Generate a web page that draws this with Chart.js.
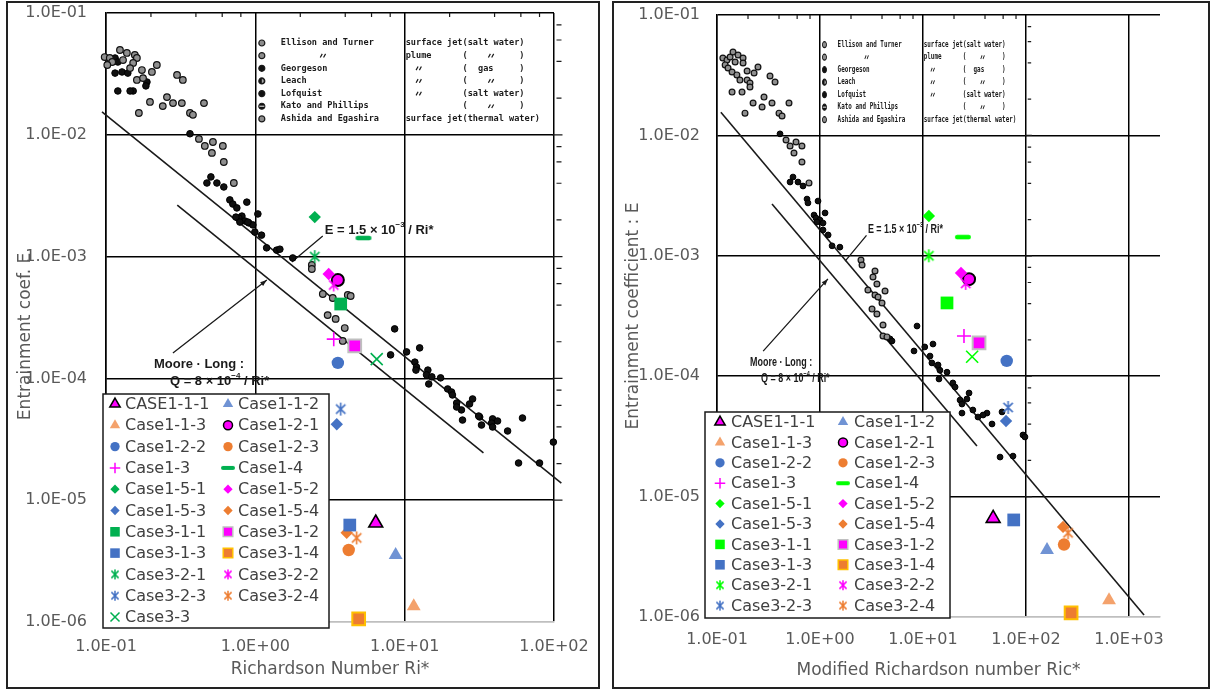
<!DOCTYPE html>
<html>
<head>
<meta charset="utf-8">
<script src="https://cdn.jsdelivr.net/npm/chart.js@4.4.1/dist/chart.umd.min.js"></script>
<style>
  body { margin: 0; background: #fff; width: 1216px; height: 690px; overflow: hidden; position: relative; }
  .frame { position: absolute; border: 2px solid #222; box-sizing: border-box; }
  canvas { position: absolute; top: 0; }
</style>
</head>
<body>
<div class="frame" style="left:6px;top:1px;width:594px;height:688px"></div>
<div class="frame" style="left:612px;top:1px;width:598px;height:688px"></div>
<canvas id="left" width="608" height="690" style="left:0"></canvas>
<canvas id="right" width="608" height="690" style="left:608px"></canvas>
<script>
// ---- data ----
const caseNames = ['CASE1-1-1', 'Case1-1-2', 'Case1-1-3', 'Case1-2-1', 'Case1-2-2', 'Case1-2-3',
  'Case1-3', 'Case1-4', 'Case1-5-1', 'Case1-5-2', 'Case1-5-3', 'Case1-5-4',
  'Case3-1-1', 'Case3-1-2', 'Case3-1-3', 'Case3-1-4', 'Case3-2-1', 'Case3-2-2',
  'Case3-2-3', 'Case3-2-4', 'Case3-3'];

// left panel: Richardson number Ri*
const riLeft = [6.4, 8.7, 11.5, 3.57, 3.57, 4.22, 3.35, 5.3, 2.5, 3.1, 3.51, 4.09,
  3.73, 4.63, 4.29, 4.92, 2.5, 3.35, 3.73, 4.77, 6.5];
const eLeft = [6.5e-6, 3.55e-6, 1.35e-6, 6.43e-4, 1.34e-4, 3.9e-6, 2.1e-4, 1.42e-3, 2.11e-3, 7.2e-4, 4.2e-5, 5.4e-6,
  4.08e-4, 1.85e-4, 6.25e-6, 1.06e-6, 1.0e-3, 5.85e-4, 5.6e-5, 4.9e-6, 1.44e-4];

// right panel: modified Richardson number Ric*
const riRight = [48, 160, 640, 28, 65, 234, 25, 24.4, 11.4, 23.4, 64, 229,
  17.1, 35, 76, 274, 11.4, 26, 67, 256, 30];
const eRight = [6.6e-6, 3.6e-6, 1.38e-6, 6.4e-4, 1.34e-4, 4.0e-6, 2.16e-4, 1.43e-3, 2.14e-3, 7.2e-4, 4.25e-5, 5.6e-6,
  4.06e-4, 1.89e-4, 6.4e-6, 1.08e-6, 1.0e-3, 5.9e-4, 5.5e-5, 5.0e-6, 1.45e-4];

// literature points of the scanned figure [Ri, E]
const litOpenLeft = [[0.098, 0.0435], [0.106, 0.0427], [0.124, 0.0497], [0.138, 0.047], [0.156, 0.0452],
  [0.161, 0.0427], [0.130, 0.0411], [0.110, 0.0396], [0.102, 0.0374], [0.152, 0.0389], [0.145, 0.0353],
  [0.174, 0.034], [0.203, 0.0328], [0.219, 0.0374], [0.299, 0.031], [0.327, 0.0282], [0.161, 0.0282],
  [0.177, 0.0292], [0.256, 0.0204], [0.197, 0.0186], [0.240, 0.0172], [0.281, 0.0182], [0.322, 0.0182],
  [0.453, 0.0182], [0.166, 0.0151], [0.365, 0.0151], [0.382, 0.0146], [0.419, 0.00925], [0.459, 0.0081],
  [0.52, 0.00873], [0.606, 0.0081], [0.512, 0.0071], [0.615, 0.00598], [0.718, 0.00402], [2.39, 8.53e-4],
  [2.39, 7.91e-4], [2.83, 4.93e-4], [3.30, 4.57e-4], [4.16, 4.84e-4], [4.35, 4.75e-4], [3.05, 3.31e-4],
  [3.45, 3.08e-4], [3.97, 2.59e-4], [3.85, 2.03e-4]];
const litSolidLeft = [[0.115, 0.0427], [0.120, 0.0396], [0.115, 0.0321], [0.128, 0.0328], [0.140, 0.0321],
  [0.188, 0.0271], [0.185, 0.0252], [0.152, 0.0229], [0.145, 0.0229], [0.120, 0.0229], [0.365, 0.0102],
  [0.504, 0.00451], [0.474, 0.00402], [0.553, 0.00402], [0.615, 0.00373], [0.675, 0.00292], [0.707, 0.0027],
  [0.877, 0.0028], [0.752, 0.00251], [0.813, 0.00215], [0.776, 0.00207], [0.851, 0.00196], [0.905, 0.00189],
  [0.962, 0.00182], [1.04, 0.00224], [0.741, 0.00211], [0.788, 0.00192], [0.891, 0.00192], [0.993, 0.00159],
  [1.10, 0.0015], [1.19, 0.00118], [1.39, 0.00113], [1.78, 0.000975], [1.46, 0.00115],
  [8.57, 2.55e-4], [8.05, 1.56e-4], [10.3, 1.65e-4], [12.6, 1.78e-4], [11.7, 1.36e-4], [12.0, 1.24e-4],
  [11.9, 1.17e-4], [14.3, 1.17e-4], [14.0, 1.07e-4], [15.2, 1.03e-4], [17.4, 1.01e-4], [14.5, 9.0e-5],
  [19.4, 8.19e-5], [20.6, 7.73e-5], [20.9, 7.31e-5], [27.2, 6.17e-5], [28.5, 6.78e-5], [22.3, 6.28e-5],
  [24.0, 5.51e-5], [24.4, 4.55e-5], [31.8, 4.82e-5], [38.8, 4.65e-5], [61.5, 4.73e-5], [22.3, 5.82e-5],
  [31.3, 4.91e-5], [32.7, 4.14e-5], [38.2, 4.3e-5], [38.8, 3.99e-5], [41.9, 4.47e-5], [48.9, 3.7e-5],
  [57.9, 2.02e-5], [80.0, 2.02e-5], [99, 3.0e-5]];

const litOpenRight = [[0.114, 0.044], [0.125, 0.0423], [0.134, 0.0448], [0.143, 0.0493], [0.160, 0.0466],
  [0.179, 0.044], [0.179, 0.0399], [0.150, 0.0407], [0.120, 0.0385], [0.128, 0.0363], [0.140, 0.0336],
  [0.156, 0.0318], [0.196, 0.0343], [0.229, 0.033], [0.250, 0.037], [0.167, 0.0288], [0.196, 0.0288],
  [0.209, 0.0272], [0.209, 0.0252], [0.175, 0.0229], [0.140, 0.0229], [0.187, 0.0153], [0.224, 0.0186],
  [0.274, 0.0172], [0.286, 0.0208], [0.327, 0.0311], [0.366, 0.0278], [0.342, 0.0186], [0.500, 0.0186],
  [0.400, 0.0153], [0.428, 0.0145], [0.468, 0.00916], [0.512, 0.00817], [0.585, 0.00881], [0.668, 0.00817],
  [0.559, 0.00714], [0.668, 0.00601], [0.782, 0.00403], [2.50, 9.23e-4], [2.56, 8.39e-4], [3.42, 7.48e-4],
  [3.27, 6.67e-4], [3.57, 5.83e-4], [2.92, 5.2e-4], [4.28, 5.1e-4], [3.42, 4.72e-4], [3.66, 4.55e-4],
  [4.0, 4.06e-4], [3.2, 3.61e-4], [3.57, 3.29e-4], [4.09, 2.66e-4], [4.09, 2.16e-4], [4.47, 2.12e-4]];
const litSolidRight = [[0.409, 0.0103], [0.547, 0.00451], [0.512, 0.0041], [0.611, 0.0041], [0.684, 0.0038],
  [0.748, 0.00296], [0.764, 0.00275], [0.957, 0.00285], [0.875, 0.00218], [0.914, 0.00206], [1.0, 0.00198],
  [1.12, 0.00227], [1.07, 0.00187], [0.935, 0.00191], [1.07, 0.00164], [1.20, 0.00149], [1.31, 0.00121],
  [1.56, 0.00118], [4.79, 2.04e-4], [5.0, 1.96e-4], [8.75, 2.61e-4], [8.18, 1.62e-4], [10.4, 1.75e-4],
  [12.5, 1.85e-4], [11.7, 1.47e-4], [12.2, 1.29e-4], [14.0, 1.24e-4], [14.6, 1.12e-4], [17.1, 1.08e-4],
  [14.3, 9.48e-5], [19.5, 8.79e-5], [20.5, 8.13e-5], [28.0, 7.25e-5], [22.9, 6.34e-5], [23.9, 5.87e-5],
  [26.7, 6.47e-5], [23.9, 4.94e-5], [41.8, 4.94e-5], [58.5, 5.05e-5], [34.2, 4.58e-5], [38.3, 4.76e-5],
  [30.5, 5.24e-5], [46.8, 4.01e-5], [56.0, 2.13e-5], [74.8, 2.17e-5], [93.5, 3.25e-5], [97.7, 3.13e-5]];

// E = 1.5e-3/Ri* and Moore-Long Q = 8e-4/Ri* (end points)
const lineELeft = [[0.094, 0.0154], [112, 1.38e-5]];
const lineMLLeft = [[0.30, 2.65e-3], [33.7, 2.45e-5]];
const lineERight = [[0.109, 0.0156], [1400, 1.04e-6]];
const lineMLRight = [[0.342, 2.69e-3], [33.4, 2.63e-5]];

const xTicksLeft = [0.1, 1, 10, 100];
const xTicksRight = [0.1, 1, 10, 100, 1000];
const yTicks = [1e-6, 1e-5, 1e-4, 1e-3, 1e-2, 1e-1];
const xLabelsLeft = ['1.0E-01', '1.0E+00', '1.0E+01', '1.0E+02'];
const xLabelsRight = ['1.0E-01', '1.0E+00', '1.0E+01', '1.0E+02', '1.0E+03'];
const yLabels = ['1.0E-06', '1.0E-05', '1.0E-04', '1.0E-03', '1.0E-02', '1.0E-01'];

// ---- styles ----
const FONT = '"DejaVu Sans", sans-serif';
const LABEL = '#595959';
const INK = '#1a1a1a';
const MAG = '#FF00FF', BLUE = '#4472C4', ORANGE = '#ED7D31', LBLUE = '#7093D4', LORANGE = '#F4A26C';

function asteriskImg(color, size, lw) {
  const c = document.createElement('canvas');
  c.width = c.height = size + 2;
  const g = c.getContext('2d');
  const m = c.width / 2, r = size / 2, d = r * 0.72;
  g.strokeStyle = color;
  g.lineWidth = lw;
  g.beginPath();
  g.moveTo(m, m - r); g.lineTo(m, m + r);
  g.moveTo(m - d, m - d); g.lineTo(m + d, m + d);
  g.moveTo(m + d, m - d); g.lineTo(m - d, m + d);
  g.stroke();
  return c;
}

function dashImg(color, len, th) {
  const c = document.createElement('canvas');
  c.width = len + 2; c.height = th + 2;
  const g = c.getContext('2d');
  g.strokeStyle = color;
  g.lineWidth = th;
  g.lineCap = 'round';
  g.beginPath();
  g.moveTo(1 + th / 2, c.height / 2);
  g.lineTo(c.width - 1 - th / 2, c.height / 2);
  g.stroke();
  return c;
}

function caseStyles(green) {
  return [
    { shape: 'triangle', fill: MAG, border: '#000', bw: 1.6, r: 8 },
    { shape: 'triangle', fill: LBLUE, r: 8 },
    { shape: 'triangle', fill: LORANGE, r: 8 },
    { shape: 'circle', fill: MAG, border: '#000', bw: 2, r: 6 },
    { shape: 'circle', fill: BLUE, r: 6.2 },
    { shape: 'circle', fill: ORANGE, r: 6.2 },
    { shape: 'cross', color: MAG, r: 7 },
    { shape: 'dash', color: green },
    { shape: 'rectRot', fill: green, r: 6.2 },
    { shape: 'rectRot', fill: MAG, r: 6.2 },
    { shape: 'rectRot', fill: BLUE, r: 6.2 },
    { shape: 'rectRot', fill: ORANGE, r: 6.2 },
    { shape: 'rect', fill: green, r: 9 },
    { shape: 'rect', fill: MAG, border: '#BFBFBF', bw: 2, r: 9 },
    { shape: 'rect', fill: BLUE, r: 9 },
    { shape: 'rect', fill: ORANGE, border: '#FFC000', bw: 2, r: 9 },
    { shape: 'ast', color: green },
    { shape: 'ast', color: MAG },
    { shape: 'ast', color: BLUE },
    { shape: 'ast', color: ORANGE },
    { shape: 'crossRot', color: green, r: 8.5 }
  ].map(s => {
    if (s.shape === 'ast') { s.img = asteriskImg(s.color, 13, 1.6); s.legImg = asteriskImg(s.color, 10, 1.5); }
    if (s.shape === 'dash') { s.img = dashImg(s.color, 16, 4.5); s.legImg = dashImg(s.color, 14, 4); }
    return s;
  });
}

function caseDataset(name, x, y, s, i, inLegend) {
  const ds = { label: name, data: [{ x: x, y: y }], order: 40 - i, legend: inLegend, caseStyle: s, clip: false };
  if (s.img) {
    ds.pointStyle = s.img;
    ds.pointRadius = 7;
  } else {
    ds.pointStyle = s.shape;
    ds.pointRadius = s.r;
    ds.pointBackgroundColor = s.fill || 'rgba(0,0,0,0)';
    ds.pointBorderColor = s.border || s.color || s.fill;
    ds.pointBorderWidth = s.bw || (s.color ? 1.6 : 0);
  }
  ds.pointHoverRadius = ds.pointRadius;
  return ds;
}

function drawLegendMarker(ctx, s, x, y) {
  if (s.legImg) {
    ctx.drawImage(s.legImg, x - s.legImg.width / 2, y - s.legImg.height / 2);
    return;
  }
  ctx.save();
  ctx.fillStyle = s.fill || 'rgba(0,0,0,0)';
  ctx.strokeStyle = s.border || s.color || s.fill;
  const bw = s.bw ? 1.5 : (s.color ? 1.5 : 0);
  ctx.lineWidth = bw;
  Chart.helpers.drawPoint(ctx, { pointStyle: s.shape, radius: s.r * 0.75, rotation: 0, borderWidth: bw }, x, y);
  ctx.restore();
}

// legend box with two columns drawn inside the plot
const caseLegend = {
  id: 'caseLegend',
  afterDatasetsDraw(chart, args, o) {
    const ctx = chart.ctx;
    const [x1, y1, x2, y2] = o.box;
    ctx.save();
    ctx.fillStyle = '#fff';
    ctx.fillRect(x1, y1, x2 - x1, y2 - y1);
    ctx.strokeStyle = INK;
    ctx.lineWidth = 1.5;
    ctx.strokeRect(x1, y1, x2 - x1, y2 - y1);
    ctx.font = '16px ' + FONT;
    ctx.textBaseline = 'middle';
    ctx.textAlign = 'left';
    chart.data.datasets.filter(d => d.legend).forEach((d, i) => {
      const col = o.cols[i % 2];
      const y = o.y0 + Math.floor(i / 2) * o.dy;
      drawLegendMarker(ctx, d.caseStyle, col[0], y);
      ctx.fillStyle = '#404040';
      ctx.fillText(d.label, col[1], y + 1);
    });
    ctx.restore();
  }
};

// the text and ticks of the scanned figure, placed in the frame of the left panel's picture
const scanOverlay = {
  id: 'scanOverlay',
  beforeDatasetsDraw(chart) {
    const ctx = chart.ctx, xs = chart.scales.x, ys = chart.scales.y;
    const x0 = xs.getPixelForValue(0.1), y0 = ys.getPixelForValue(0.1);
    const sx = (xs.getPixelForValue(10) - xs.getPixelForValue(1)) / 149.5;
    const sy = (ys.getPixelForValue(1e-3) - ys.getPixelForValue(1e-2)) / 121.8;
    const X = p => x0 + (p - 106) * sx;
    const Y = p => y0 + (p - 13) * sy;
    ctx.save();
    ctx.strokeStyle = INK;
    ctx.fillStyle = INK;
    ctx.lineWidth = 1.2;

    ctx.beginPath();
    [0.1, 1, 10].forEach(d => [2, 4, 6, 8].forEach(k => {
      const px = xs.getPixelForValue(k * d);
      ctx.moveTo(px, y0); ctx.lineTo(px, y0 + 4);
    }));
    [1e-5, 1e-4, 1e-3, 1e-2].forEach(d => [2, 4, 6, 8].forEach(k => {
      const py = ys.getPixelForValue(k * d);
      ctx.moveTo(X(557), py); ctx.lineTo(X(562), py);
    }));
    [1e-5, 1e-4, 1e-3, 1e-2].forEach(d => {
      const py = ys.getPixelForValue(d);
      ctx.moveTo(X(553), py); ctx.lineTo(X(563), py);
    });
    ctx.stroke();

    const txt = (s, px, py, font) => {
      ctx.save();
      ctx.translate(X(px), Y(py));
      ctx.scale(sx, sy);
      ctx.font = font;
      ctx.textBaseline = 'middle';
      ctx.fillText(s, 0, 0);
      ctx.restore();
    };
    const ditto = (px, py) => {
      ctx.save();
      ctx.translate(X(px), Y(py));
      ctx.scale(sx, sy);
      ctx.beginPath();
      ctx.moveTo(-2.5, 1.8); ctx.lineTo(-0.5, -1.8);
      ctx.moveTo(0.8, 1.8); ctx.lineTo(2.8, -1.8);
      ctx.lineWidth = 1.2;
      ctx.stroke();
      ctx.restore();
    };
    const mono = 'bold 8.6px "DejaVu Sans Mono"';
    const cw = 5.17;
    const rowY = i => 43 + i * 12.65;

    // symbols of the scanned legend
    ['ring', 'ring', 'solid', 'half', 'solid', 'band', 'ring'].forEach((k, i) => {
      ctx.save();
      ctx.translate(X(262), Y(rowY(i)));
      ctx.scale(sx, sy);
      ctx.beginPath();
      ctx.arc(0, 0, 3, 0, Math.PI * 2);
      ctx.fillStyle = k === 'ring' ? '#8c8c8c' : '#111';
      ctx.fill();
      ctx.lineWidth = 1.2;
      ctx.stroke();
      if (k === 'half') { ctx.fillStyle = '#aaa'; ctx.beginPath(); ctx.arc(0, 0, 2, -Math.PI / 2, Math.PI / 2); ctx.fill(); }
      if (k === 'band') { ctx.fillStyle = '#ccc'; ctx.fillRect(-2.5, -0.6, 5, 1.2); }
      ctx.restore();
    });
    ['Ellison and Turner', '', 'Georgeson', 'Leach', 'Lofquist', 'Kato and Phillips', 'Ashida and Egashira']
      .forEach((s, i) => txt(s, 281, rowY(i), mono));
    ditto(323, rowY(1));
    const col2 = [
      [[0, 'surface jet(salt water)']],
      [[0, 'plume'], [11, '('], [16, '"'], [22, ')']],
      [[2, '"'], [11, '('], [14, 'gas'], [22, ')']],
      [[2, '"'], [11, '('], [16, '"'], [22, ')']],
      [[2, '"'], [11, '(salt water)']],
      [[11, '('], [16, '"'], [22, ')']],
      [[0, 'surface jet(thermal water)']]
    ];
    col2.forEach((row, i) => row.forEach(([c, s]) => {
      if (s === '"') ditto(406 + c * cw + 2.6, rowY(i));
      else txt(s, 406 + c * cw, rowY(i), mono);
    }));

    // formula labels with superscript exponent
    const formula = (parts, px, py) => {
      ctx.save();
      ctx.translate(X(px), Y(py));
      ctx.scale(sx, sy);
      ctx.textBaseline = 'middle';
      let cx = 0;
      parts.forEach(([s, font, dy]) => {
        ctx.font = font;
        ctx.fillText(s, cx, dy);
        cx += ctx.measureText(s).width;
      });
      ctx.restore();
    };
    const big = 'bold 13px "Liberation Sans"', small = 'bold 8px "Liberation Sans"';
    formula([['E = 1.5 × 10', big, 0], ['−3', small, -5], [' / Ri*', big, 0]], 325, 230);
    formula([['Moore · Long :', big, 0]], 154, 364);
    formula([['Q = 8 × 10', big, 0], ['−4', small, -5], [' / Ri*', big, 0]], 170, 381);

    ctx.lineWidth = 1.3;
    ctx.beginPath();
    ctx.moveTo(X(323), Y(236)); ctx.lineTo(X(292), Y(262));
    ctx.moveTo(X(173), Y(353)); ctx.lineTo(X(267), Y(280));
    ctx.stroke();
    const ax = X(267), ay = Y(280);
    const ang = Math.atan2(Y(280) - Y(353), X(267) - X(173));
    ctx.beginPath();
    ctx.moveTo(ax, ay);
    ctx.lineTo(ax - 7 * Math.cos(ang - 0.35), ay - 7 * Math.sin(ang - 0.35));
    ctx.lineTo(ax - 7 * Math.cos(ang + 0.35), ay - 7 * Math.sin(ang + 0.35));
    ctx.closePath();
    ctx.fill();
    ctx.restore();
  }
};

function pairs(list) { return list.map(p => ({ x: p[0], y: p[1] })); }

function lineDataset(list) {
  return { data: pairs(list), showLine: true, pointRadius: 0, pointHoverRadius: 0,
    borderColor: INK, borderWidth: 1.6, clip: false, order: 102 };
}

function makeChart(id, cfg) {
  const styles = caseStyles(cfg.green);
  const datasets = [
    lineDataset(cfg.lineE),
    lineDataset(cfg.lineML),
    { data: pairs(cfg.litOpen), pointRadius: cfg.dotR, pointBackgroundColor: '#8f8f8f',
      pointBorderColor: '#111', pointBorderWidth: 1.2, clip: false, order: 101 },
    { data: pairs(cfg.litSolid), pointRadius: cfg.dotR, pointBackgroundColor: '#111',
      pointBorderColor: '#000', pointBorderWidth: 1, clip: false, order: 101 }
  ];
  caseNames.forEach((name, i) => {
    datasets.push(caseDataset(name, cfg.ri[i], cfg.e[i], styles[i], i, i < cfg.legendCount));
  });
  const tickFont = { family: FONT, size: 16 };
  const titleFont = { family: FONT, size: 17 };
  return new Chart(document.getElementById(id), {
    type: 'scatter',
    data: { datasets: datasets },
    plugins: [scanOverlay, caseLegend],
    options: {
      responsive: false,
      animation: false,
      events: [],
      layout: { padding: cfg.padding },
      plugins: {
        legend: { display: false },
        tooltip: { enabled: false },
        caseLegend: cfg.legend
      },
      scales: {
        x: {
          type: 'logarithmic',
          min: 0.1,
          max: cfg.xMax,
          afterBuildTicks: s => { s.ticks = cfg.xTicks.map(v => ({ value: v })); },
          afterFit: s => { s.height = cfg.xHeight; s.paddingLeft = 0; s.paddingRight = 0; },
          ticks: { callback: (v, i) => cfg.xLabels[i], font: tickFont, color: LABEL,
            padding: cfg.xPad, maxRotation: 0, autoSkip: false },
          grid: { color: '#000', lineWidth: 1.5, drawTicks: false },
          border: { color: '#BFBFBF', width: 1.5 },
          title: { display: true, text: cfg.xTitle, font: titleFont, color: LABEL,
            padding: { top: 0, bottom: cfg.xTitlePad } }
        },
        y: {
          type: 'logarithmic',
          min: 1e-6,
          max: 0.1,
          afterBuildTicks: s => { s.ticks = yTicks.map(v => ({ value: v })); },
          afterFit: s => { s.width = cfg.yWidth; s.paddingTop = 0; s.paddingBottom = 0; },
          ticks: { callback: (v, i) => yLabels[i], font: tickFont, color: LABEL,
            padding: cfg.yPad, autoSkip: false },
          grid: { color: c => (c.tick && c.tick.value === 1e-6) ? '#BFBFBF' : '#000',
            lineWidth: 1.5, drawTicks: false },
          border: { color: '#000', width: 1.5 },
          title: { display: true, text: cfg.yTitle, font: titleFont, color: LABEL,
            padding: { top: 15, bottom: 0 } }
        }
      }
    }
  });
}

makeChart('left', {
  green: '#00B050', ri: riLeft, e: eLeft, litOpen: litOpenLeft, litSolid: litSolidLeft,
  lineE: lineELeft, lineML: lineMLLeft, legendCount: 21, dotR: 3.3,
  padding: { left: 0, right: 54, top: 13, bottom: 0 }, xHeight: 68, yWidth: 106,
  xMax: 100, xTicks: xTicksLeft, xLabels: xLabelsLeft, xPad: 15, yPad: 19, xTitlePad: 10,
  xTitle: 'Richardson Number Ri*', yTitle: 'Entrainment coef. E       ',
  legend: { box: [103, 394, 329, 628], cols: [[115, 125], [228, 238]], y0: 404, dy: 21.3 }
});

makeChart('right', {
  green: '#00FF00', ri: riRight, e: eRight, litOpen: litOpenRight, litSolid: litSolidRight,
  lineE: lineERight, lineML: lineMLRight, legendCount: 20, dotR: 2.9,
  padding: { left: 0, right: 56, top: 15, bottom: 0 }, xHeight: 73, yWidth: 109,
  xMax: 2000, xTicks: xTicksRight, xLabels: xLabelsRight, xPad: 13, yPad: 17, xTitlePad: 9,
  xTitle: 'Modified Richardson number Ric*', yTitle: 'Entrainment coefficient : E',
  legend: { box: [97, 412, 342, 618], cols: [[112, 123], [235, 246]], y0: 422, dy: 20.4 }
});
</script>
</body>
</html>
